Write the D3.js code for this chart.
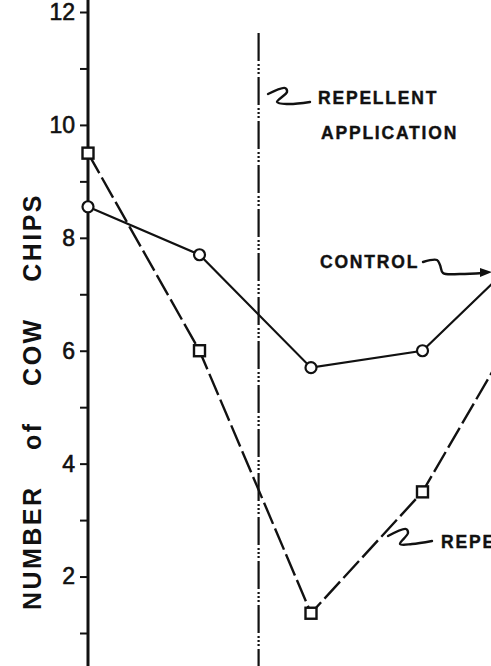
<!DOCTYPE html>
<html>
<head>
<meta charset="utf-8">
<script src="https://cdn.jsdelivr.net/npm/d3@7"></script>
<style>
  html, body { margin: 0; padding: 0; background: #fff; }
  svg { display: block; }
</style>
</head>
<body>
<div id="chart"></div>
<script>
// sampling dates (index along x), repellent applied between 2nd and 3rd sample
const samples = [0, 1, 2, 3, 4];
const controlValues = [8.55, 7.7, 5.7, 6.0, 7.9];
const repellentValues = [9.5, 6.0, 1.35, 3.5, 6.9];
const applicationAt = 1.53;
const yTicks = [1, 2, 3, 4, 5, 6, 7, 8, 9, 10, 11, 12];
const yLabels = [2, 4, 6, 8, 10, 12];

const width = 491;
const height = 666;

const svg = d3.select('#chart')
    .append('svg')
    .attr('width', width)
    .attr('height', height)
    .style('overflow', 'hidden');

// Scales
const xScale = d3.scaleLinear()
    .domain([0, 1])
    .range([88, 199.5]);

const yScale = d3.scaleLinear()
    .domain([1, 12])
    .range([633, 12]);

const ink = '#111';

// Y axis (line runs the full height of the picture)
svg.append('line')
    .attr('x1', xScale(0)).attr('x2', xScale(0))
    .attr('y1', 0).attr('y2', height)
    .attr('stroke', ink)
    .attr('stroke-width', 3);

const yAxis = d3.axisLeft(yScale)
    .tickValues(yTicks)
    .tickSize(7)
    .tickPadding(5)
    .tickFormat(d => yLabels.includes(d) ? d : '');

const gy = svg.append('g')
    .attr('transform', `translate(${xScale(0) - 1}, 0)`)
    .call(yAxis);
gy.select('.domain').remove();
gy.selectAll('.tick line').attr('stroke', ink).attr('stroke-width', 2);
gy.selectAll('.tick text')
    .attr('fill', ink)
    .attr('stroke', ink)
    .attr('stroke-width', 0.6)
    .style('font-family', '"Liberation Sans", Arial, sans-serif')
    .style('font-size', '23px');

// Y axis title
svg.append('text')
    .attr('transform', `translate(41, ${yScale(5.1)}) rotate(-90)`)
    .attr('text-anchor', 'middle')
    .attr('fill', ink)
    .style('font-family', '"Liberation Sans", Arial, sans-serif')
    .style('font-weight', 'bold')
    .style('font-size', '25px')
    .style('letter-spacing', '2.5px')
    .style('word-spacing', '26px')
    .text('NUMBER of COW CHIPS');

// Repellent application marker
const xa = xScale(applicationAt);
svg.append('line')
    .attr('x1', xa).attr('x2', xa)
    .attr('y1', 33).attr('y2', height)
    .attr('stroke', ink)
    .attr('stroke-width', 2.2)
    .attr('stroke-dasharray', '28 3 2 2 2 2 2 3');

// Series lines
const line = d3.line()
    .x((d, i) => xScale(samples[i]))
    .y(d => yScale(d));

svg.append('path')
    .datum(controlValues)
    .attr('d', line)
    .attr('fill', 'none')
    .attr('stroke', ink)
    .attr('stroke-width', 2.2);

svg.append('path')
    .datum(repellentValues)
    .attr('d', line)
    .attr('fill', 'none')
    .attr('stroke', ink)
    .attr('stroke-width', 2.4)
    .attr('stroke-dasharray', '23 5');

// Markers
svg.selectAll('circle.control')
    .data(controlValues)
    .enter()
    .append('circle')
    .attr('class', 'control')
    .attr('cx', (d, i) => xScale(samples[i]))
    .attr('cy', d => yScale(d))
    .attr('r', 5.5)
    .attr('fill', '#fff')
    .attr('stroke', ink)
    .attr('stroke-width', 2.2);

const sq = 11;
svg.selectAll('rect.repellent')
    .data(repellentValues)
    .enter()
    .append('rect')
    .attr('class', 'repellent')
    .attr('x', (d, i) => xScale(samples[i]) - sq / 2)
    .attr('y', d => yScale(d) - sq / 2)
    .attr('width', sq)
    .attr('height', sq)
    .attr('fill', '#fff')
    .attr('stroke', ink)
    .attr('stroke-width', 2.4);

// Annotations
const labelFont = sel => sel
    .attr('fill', ink)
    .attr('stroke', ink)
    .attr('stroke-width', 0.4)
    .style('font-family', '"Liberation Sans", Arial, sans-serif')
    .style('font-weight', 'bold')
    .style('font-size', '17.5px')
    .style('letter-spacing', '1.8px');

const squiggle = (pts) => svg.append('path')
    .attr('d', d3.line().curve(d3.curveCatmullRom)(pts))
    .attr('fill', 'none')
    .attr('stroke', ink)
    .attr('stroke-width', 2.4)
    .attr('stroke-linecap', 'round')
    .attr('stroke-linejoin', 'round');

svg.append('text').attr('x', 318).attr('y', 104).call(labelFont).text('REPELLENT');
svg.append('text').attr('x', 321).attr('y', 139).call(labelFont).text('APPLICATION');
squiggle([[268, 94], [285, 88], [287, 92], [277, 102], [288, 104], [310, 102]]);

svg.append('text').attr('x', 320).attr('y', 268).call(labelFont).text('CONTROL');
squiggle([[423, 262], [437, 260], [440, 265], [443, 273], [460, 274], [483, 273]]);
svg.append('path')
    .attr('d', 'M480,268 L492,272 L480,277 Z')
    .attr('fill', ink);

svg.append('text').attr('x', 441).attr('y', 548).call(labelFont).text('REPELLENT');
squiggle([[388, 536], [406, 529], [408, 533], [400, 544], [412, 544], [432, 541]]);
</script>
</body>
</html>
